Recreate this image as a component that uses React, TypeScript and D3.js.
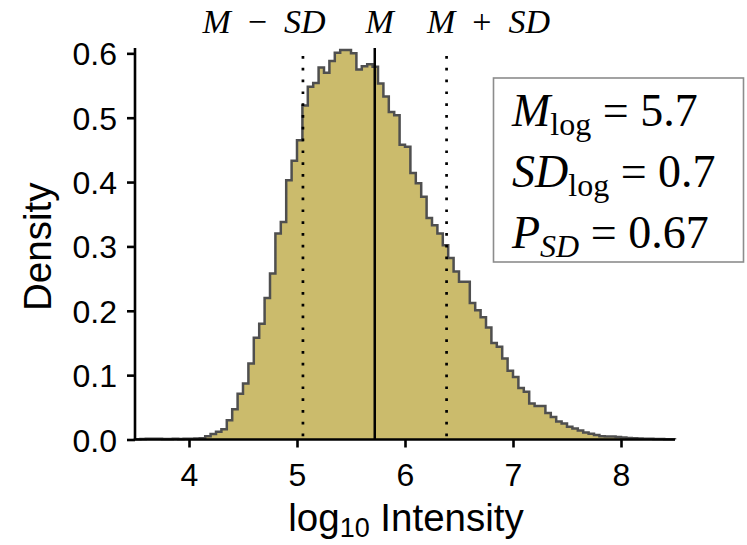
import React, { useEffect, useRef } from "react";
import * as d3 from "d3";

// Histogram of log10 intensity (density), bins of width 0.05 starting at 3.5
const binStart = 3.5;
const binWidth = 0.05;
const densities = [
  0.0005, 0.0008, 0.001, 0.0012, 0.001, 0.0008, 0.0008, 0.001, 0.0008, 0.001,
  0.0012, 0.0015, 0.002, 0.005, 0.0085, 0.012, 0.016, 0.03, 0.047, 0.071,
  0.087, 0.118, 0.158, 0.18, 0.22, 0.258, 0.32, 0.338, 0.403, 0.433,
  0.465, 0.519, 0.548, 0.554, 0.578, 0.57, 0.588, 0.601, 0.605, 0.605,
  0.6, 0.575, 0.58, 0.583, 0.579, 0.553, 0.533, 0.509, 0.504, 0.458,
  0.455, 0.414, 0.398, 0.377, 0.344, 0.333, 0.32, 0.302, 0.282, 0.261,
  0.245, 0.245, 0.212, 0.201, 0.19, 0.174, 0.15, 0.144, 0.126, 0.107,
  0.097, 0.08, 0.074, 0.056, 0.052, 0.052, 0.041, 0.035, 0.028, 0.025,
  0.02, 0.017, 0.014, 0.011, 0.009, 0.007, 0.005, 0.0045, 0.0045, 0.004,
  0.003, 0.0025, 0.002, 0.0015, 0.0012, 0.001, 0.0008, 0.0006, 0.0005, 0.0004,
];
const xDomain = [3.5, 8.5];
const yDomain = [0, 0.6083];
const xTickValues = [4, 5, 6, 7, 8];
const yTickValues = [0, 0.1, 0.2, 0.3, 0.4, 0.5, 0.6];
const meanLog = 5.72;
const sdLog = 0.665;
const markerOps = ["−", "", "+"];
const markerOffsets = [-1, 0, 1];
const statSymbols = ["M", "SD", "P"];
const statSubs = ["log", "log", "SD"];
const statValues = ["5.7", "0.7", "0.67"];

const W = 747;
const H = 545;
const FILL = "#CBBB6C";
const EDGE = "#4f4f4f";

export default function App() {
  const ref = useRef<SVGSVGElement | null>(null);

  useEffect(() => {
    const svg = d3.select(ref.current);
    svg.selectAll("*").remove();

    const x = d3.scaleLinear().domain(xDomain).range([135, 675]);
    const y = d3.scaleLinear().domain(yDomain).range([439.5, 48]);

    const pts = densities.map((d, i) => [binStart + i * binWidth, d] as [number, number]);
    pts.push([binStart + densities.length * binWidth, densities[densities.length - 1]]);

    const area = d3
      .area<[number, number]>()
      .x((d) => x(d[0]))
      .y0(y(0))
      .y1((d) => y(d[1]))
      .curve(d3.curveStepAfter);

    svg.append("path").attr("d", area(pts)).attr("fill", FILL);

    const outlinePts: [number, number][] = [
      [binStart, 0],
      ...pts,
      [binStart + densities.length * binWidth, 0],
    ];
    const line = d3
      .line<[number, number]>()
      .x((d) => x(d[0]))
      .y((d) => y(d[1]))
      .curve(d3.curveStepAfter);
    svg
      .append("path")
      .attr("d", line(outlinePts))
      .attr("fill", "none")
      .attr("stroke", EDGE)
      .attr("stroke-width", 2.5)
      .attr("stroke-linejoin", "miter");

    // vertical marker lines
    markerOffsets.forEach((k) => {
      const xv = x(meanLog + k * sdLog);
      svg
        .append("line")
        .attr("x1", xv)
        .attr("x2", xv)
        .attr("y1", y(yDomain[1]))
        .attr("y2", y(0))
        .attr("stroke", "#000")
        .attr("stroke-width", k === 0 ? 2.5 : 2.7)
        .attr("stroke-dasharray", k === 0 ? null : "2.7 9.1")
        .attr("stroke-dashoffset", k === 0 ? 0 : -8);
    });

    // top labels
    const labelShift = [-39, 5, 42];
    markerOffsets.forEach((k, i) => {
      const t = svg
        .append("text")
        .attr("x", x(meanLog + k * sdLog) + labelShift[i])
        .attr("y", 33)
        .attr("text-anchor", "middle")
        .attr("font-family", "'Liberation Serif', serif")
        .attr("font-size", 34)
        .attr("xml:space", "preserve");
      t.append("tspan").attr("font-style", "italic").text("M");
      if (markerOps[i]) {
        t.append("tspan").text("  " + markerOps[i] + "  ");
        t.append("tspan").attr("font-style", "italic").text("SD");
      }
    });

    // axes
    const gx = svg.append("g").attr("transform", `translate(0,${y(0)})`);
    gx.call(
      d3.axisBottom(x).tickValues(xTickValues).tickSize(8).tickPadding(16).tickFormat(d3.format("d"))
    );
    const gy = svg.append("g").attr("transform", `translate(${x(xDomain[0])},0)`);
    gy.call(
      d3.axisLeft(y).tickValues(yTickValues).tickSize(8).tickPadding(10).tickFormat(d3.format(".1f"))
    );
    [gx, gy].forEach((g) => {
      g.select(".domain").attr("stroke", "#000").attr("stroke-width", 2.6);
      g.selectAll(".tick line").attr("stroke", "#000").attr("stroke-width", 2.6);
      g.selectAll(".tick text")
        .attr("fill", "#000")
        .attr("font-family", "'Liberation Sans', Arial, sans-serif")
        .attr("font-size", 32);
    });
    gx.select(".domain").attr("d", `M${x(xDomain[0])},0H${x(xDomain[1])}`);
    gy.select(".domain").attr("d", `M0,${y(yDomain[1])}V${y(0)}`);
    gx.selectAll(".tick text").attr("dy", "0.71em");
    gy.selectAll(".tick text").attr("dy", "0.36em");

    // axis titles
    const xt = svg
      .append("text")
      .attr("x", (x(xDomain[0]) + x(xDomain[1])) / 2 + 1)
      .attr("y", 531)
      .attr("text-anchor", "middle")
      .attr("font-family", "'Liberation Sans', Arial, sans-serif")
      .attr("font-size", 38.5);
    xt.append("tspan").text("log");
    xt.append("tspan").attr("font-size", 27).attr("dy", 6).text("10");
    xt.append("tspan").attr("dy", -6).text(" Intensity");

    svg
      .append("text")
      .attr("transform", `translate(51,${(y(0) + y(yDomain[1])) / 2 + 3}) rotate(-90)`)
      .attr("text-anchor", "middle")
      .attr("font-family", "'Liberation Sans', Arial, sans-serif")
      .attr("font-size", 38.5)
      .text("Density");

    // stats box
    svg
      .append("rect")
      .attr("x", 493.5)
      .attr("y", 78)
      .attr("width", 250)
      .attr("height", 184)
      .attr("fill", "#fff")
      .attr("stroke", "#8c8c8c")
      .attr("stroke-width", 1.6);

    statSymbols.forEach((s, i) => {
      const t = svg
        .append("text")
        .attr("x", 512)
        .attr("y", 126 + i * 61)
        .attr("font-family", "'Liberation Serif', serif")
        .attr("font-size", 46);
      t.append("tspan").attr("font-style", "italic").text(s);
      t.append("tspan")
        .attr("font-size", 32)
        .attr("dy", 9)
        .attr("font-style", statSubs[i] === "SD" ? "italic" : "normal")
        .text(statSubs[i]);
      t.append("tspan").attr("dy", -9).text(" = " + statValues[i]);
    });
  }, []);

  return (
    <svg
      ref={ref}
      width={W}
      height={H}
      style={{ position: "absolute", left: 0, top: 0, background: "#fff" }}
    />
  );
}
